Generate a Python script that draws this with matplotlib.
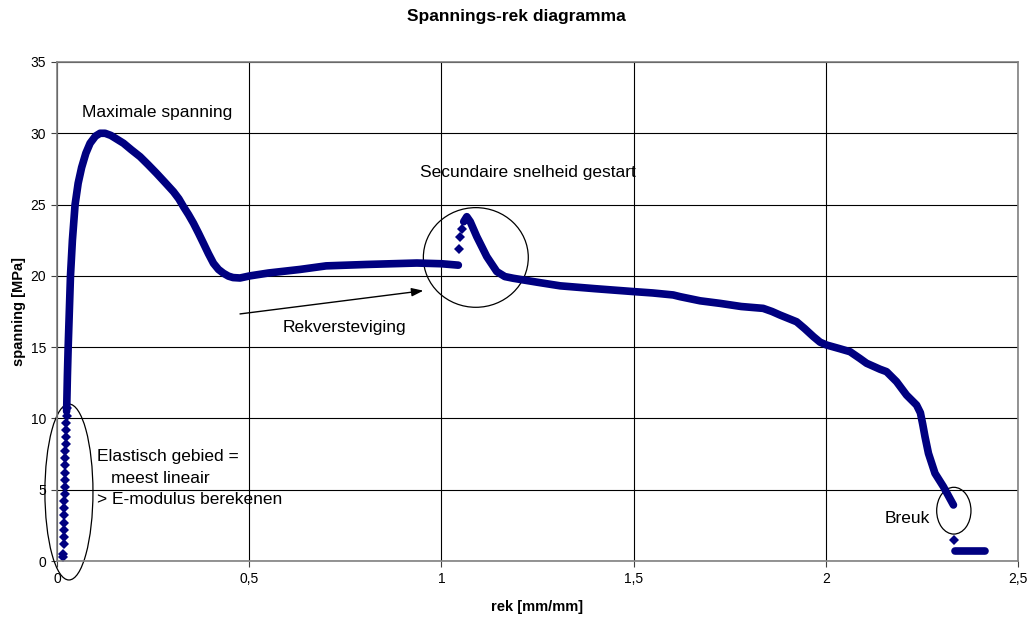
import matplotlib
matplotlib.use("Agg")
import matplotlib.pyplot as plt
from matplotlib.patches import Ellipse

plt.rcParams['font.family'] = ['Liberation Sans', 'DejaVu Sans']

# elastisch gebied: losse meetpunten
elastic_rek = [0.016, 0.016, 0.017, 0.017, 0.018, 0.018, 0.019, 0.019, 0.019, 0.020, 0.020,
               0.021, 0.021, 0.022, 0.022, 0.022, 0.023, 0.023, 0.024, 0.024, 0.025, 0.025]
elastic_spanning = [0.3, 0.5, 1.2, 1.7, 2.2, 2.7, 3.2, 3.7, 4.2, 4.7, 5.2,
                    5.7, 6.2, 6.7, 7.2, 7.7, 8.2, 8.7, 9.2, 9.7, 10.2, 10.7]

# dichte meetreeks tot aan het einde van de rekversteviging
rek_a = [0.025, 0.027, 0.029, 0.032, 0.035, 0.040, 0.047, 0.055, 0.064, 0.075, 0.086,
         0.100, 0.112, 0.125, 0.140, 0.155, 0.173, 0.193, 0.216, 0.237, 0.259, 0.281,
         0.303, 0.317, 0.329, 0.342, 0.355, 0.368, 0.381, 0.394, 0.407, 0.420, 0.433,
         0.446, 0.458, 0.476, 0.502, 0.550, 0.632, 0.700, 0.806, 0.936, 1.000, 1.044]
spanning_a = [10.5, 13.0, 15.0, 17.5, 20.0, 22.5, 25.0, 26.5, 27.6, 28.6, 29.3,
              29.8, 30.0, 30.0, 29.85, 29.6, 29.3, 28.85, 28.36, 27.8, 27.19, 26.55,
              25.9, 25.4, 24.85, 24.3, 23.69, 23.0, 22.28, 21.55, 20.88, 20.45, 20.18,
              19.98, 19.88, 19.85, 20.0, 20.2, 20.45, 20.7, 20.8, 20.9, 20.85, 20.75]

# secundaire snelheid: sprong omhoog
spike_rek = [1.047, 1.049, 1.053]
spike_spanning = [21.9, 22.7, 23.3]

# dichte meetreeks na de sprong tot breuk
rek_b = [1.058, 1.066, 1.075, 1.092, 1.118, 1.144, 1.165, 1.187, 1.250, 1.309, 1.400,
         1.498, 1.550, 1.603, 1.621, 1.673, 1.725, 1.780, 1.837, 1.860, 1.881, 1.924,
         1.945, 1.968, 1.985, 2.002, 2.035, 2.063, 2.089, 2.106, 2.141, 2.158, 2.184,
         2.210, 2.236, 2.246, 2.252, 2.258, 2.267, 2.284, 2.306, 2.332]
spanning_b = [23.8, 24.15, 23.8, 22.75, 21.35, 20.3, 19.95, 19.83, 19.55, 19.3, 19.1,
              18.9, 18.8, 18.66, 18.54, 18.25, 18.07, 17.85, 17.72, 17.5, 17.25, 16.78,
              16.3, 15.73, 15.35, 15.15, 14.9, 14.68, 14.2, 13.87, 13.45, 13.28, 12.58,
              11.64, 10.94, 10.4, 9.6, 8.72, 7.55, 6.15, 5.21, 3.93]

# na breuk
breuk_rek = [2.334]
breuk_spanning = [1.47]
rest_rek = [2.336, 2.345, 2.355, 2.365, 2.375, 2.385, 2.395, 2.405, 2.415]
rest_spanning = [0.7, 0.7, 0.7, 0.7, 0.7, 0.7, 0.7, 0.7, 0.7]

x_ticks = [0, 0.5, 1, 1.5, 2, 2.5]
x_ticklabels = ['0', '0,5', '1', '1,5', '2', '2,5']
y_ticks = [0, 5, 10, 15, 20, 25, 30, 35]

blue = '#000080'

fig = plt.figure(figsize=(10.33, 6.18), dpi=100)
ax = fig.add_axes([0.0552, 0.0922, 0.9303, 0.8075])

line_kw = dict(color=blue, lw=5.5, solid_capstyle='round', solid_joinstyle='round')
ax.plot(rek_a, spanning_a, **line_kw)
ax.plot(rek_b, spanning_b, **line_kw)
ax.plot(rest_rek, rest_spanning, **line_kw)

mark_kw = dict(ls='none', marker='D', ms=4.6, mew=0, color=blue)
ax.plot(elastic_rek, elastic_spanning, **mark_kw)
ax.plot(spike_rek, spike_spanning, **mark_kw)
ax.plot(breuk_rek, breuk_spanning, **mark_kw)

ax.set_xlim(0, 2.5)
ax.set_ylim(0, 35)
ax.set_xticks(x_ticks)
ax.set_xticklabels(x_ticklabels)
ax.set_yticks(y_ticks)
ax.grid(True, color='black', lw=0.8)
ax.set_axisbelow(True)
ax.tick_params(direction='out', length=4, width=0.8, color='#404040',
               labelsize=10, pad=4)
for side in ax.spines.values():
    side.set_color('#808080')
    side.set_linewidth(1.2)

fig.text(0.5, 1 - 16 / 618, 'Spannings-rek diagramma', fontsize=12.5,
         fontweight='bold', ha='center', va='center')
ax.set_xlabel('rek [mm/mm]', fontsize=10.5, fontweight='bold', labelpad=10)
ax.set_ylabel('spanning [MPa]', fontsize=10.5, fontweight='bold', labelpad=3)

# toelichtingen
txt = dict(fontsize=12.5, va='baseline', ha='left')
ax.text(0.065, 31.15, 'Maximale spanning', **txt)
ax.text(0.944, 26.91, 'Secundaire snelheid gestart', **txt)
ax.text(0.587, 16.08, 'Rekversteviging', **txt)
ax.text(0.103, 7.01, 'Elastisch gebied =', **txt)
ax.text(0.140, 5.49, 'meest lineair', **txt)
ax.text(0.103, 4.0, '> E-modulus berekenen', **txt)
ax.text(2.154, 2.69, 'Breuk', **txt)

ax.annotate('', xy=(0.953, 18.96), xytext=(0.476, 17.33),
            arrowprops=dict(arrowstyle='-|>,head_length=0.7,head_width=0.25',
                            mutation_scale=10, lw=1, color='black',
                            shrinkA=0, shrinkB=0))

for center, w, h in [((0.031, 4.84), 0.125, 12.34),
                     ((1.0895, 21.29), 0.273, 6.99),
                     ((2.333, 3.53), 0.0892, 3.28)]:
    ax.add_patch(Ellipse(center, w, h, fill=False, ec='black', lw=0.9, clip_on=False))

fig.savefig('out.png', dpi=100)
